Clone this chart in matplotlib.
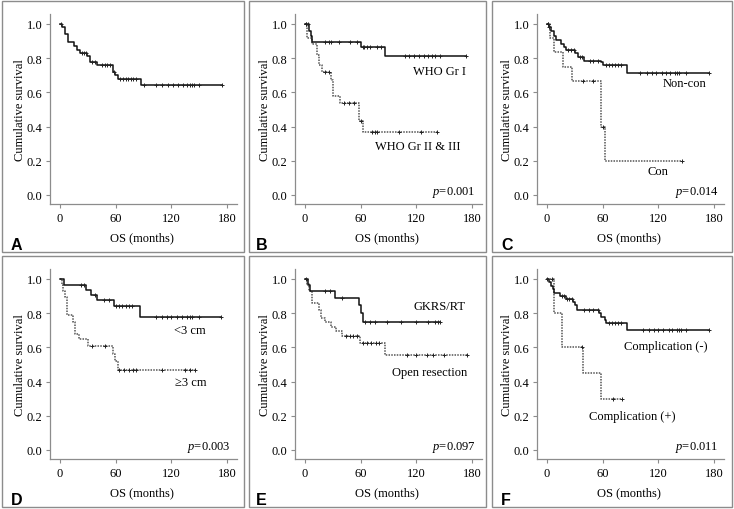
import numpy as np
import matplotlib.pyplot as plt
from matplotlib.patches import Rectangle

plt.rcParams['font.family'] = 'Liberation Serif'
plt.rcParams['mathtext.fontset'] = 'custom'
plt.rcParams['mathtext.rm'] = 'Liberation Serif'
plt.rcParams['mathtext.it'] = 'Liberation Serif:italic'

# --- KM data (months, cumulative survival) ---
# A: all patients
a_times = [0, 2, 5, 9, 15, 18, 22, 29, 32, 40, 57, 59, 62, 87]
a_surv = [1.0, 0.98, 0.94, 0.895, 0.87, 0.845, 0.83, 0.81, 0.78, 0.76, 0.72, 0.70, 0.68, 0.64]
a_cens = [1, 24, 26, 28, 35, 38, 45, 48, 51, 54, 58, 65, 68, 71, 73, 76, 79, 82,
          90, 103, 110, 116, 122, 127, 133, 137, 140, 142, 144, 150, 175]

# B: WHO grade
b1_times = [0, 4, 6, 8, 60, 86]
b1_surv = [1.0, 0.96, 0.93, 0.895, 0.865, 0.81]
b1_cens = [1, 3, 22, 26, 28, 37, 49, 56, 62, 64, 67, 70, 78, 82,
           108, 112, 118, 123, 128, 133, 137, 140, 145, 174]
b2_times = [0, 2, 7, 13, 15, 18, 28, 30, 38, 58, 62]
b2_surv = [1.0, 0.92, 0.88, 0.82, 0.76, 0.72, 0.67, 0.58, 0.54, 0.43, 0.37]
b2_cens = [1, 22, 26, 42, 47, 53, 60, 72, 75, 78, 101, 125, 142]

# C: Non-con / Con
c1_times = [0, 2, 4, 7, 10, 15, 18, 20, 30, 33, 40, 58, 60, 86]
c1_surv = [1.0, 0.98, 0.96, 0.93, 0.905, 0.88, 0.865, 0.85, 0.83, 0.805, 0.785, 0.775, 0.76, 0.715]
c1_cens = [1, 2, 23, 26, 29, 36, 38, 46, 50, 55, 64, 67, 70, 73, 76, 80,
           100, 108, 113, 118, 124, 128, 133, 138, 140, 142, 150, 175]
c2_times = [0, 3, 8, 17, 27, 58, 63]
c2_surv = [1.0, 0.917, 0.833, 0.75, 0.667, 0.40, 0.20]
c2_cens = [1, 39, 50, 60, 145]

# D: tumour size
d1_times = [0, 4, 28, 33, 40, 58, 86]
d1_surv = [1.0, 0.967, 0.935, 0.905, 0.875, 0.84, 0.775]
d1_cens = [23, 26, 38, 47, 53, 60, 64, 67, 71, 74, 78,
           103, 110, 115, 120, 126, 132, 137, 140, 142, 150, 174]
d2_times = [0, 2, 3, 5, 8, 14, 16, 20, 30, 57, 59, 62]
d2_surv = [1.0, 0.967, 0.93, 0.895, 0.79, 0.75, 0.68, 0.65, 0.61, 0.56, 0.52, 0.465]
d2_cens = [35, 48, 64, 69, 74, 79, 82, 110, 135, 140, 146]

# E: treatment
e1_times = [0, 3, 5, 32, 58, 60, 63]
e1_surv = [1.0, 0.967, 0.93, 0.89, 0.85, 0.80, 0.75]
e1_cens = [1, 22, 27, 40, 65, 70, 75, 88, 103, 120, 133, 140, 143, 146]
e2_times = [0, 2, 4, 8, 15, 17, 22, 28, 33, 40, 59, 86]
e2_surv = [1.0, 0.97, 0.93, 0.86, 0.82, 0.77, 0.75, 0.72, 0.695, 0.665, 0.625, 0.555]
e2_cens = [44, 48, 52, 56, 63, 67, 71, 76, 80, 110, 120, 132, 138, 150, 175]

# F: complication
f1_times = [0, 2, 4, 6, 8, 14, 20, 28, 30, 32, 56, 58, 62, 64, 86]
f1_surv = [1.0, 0.98, 0.96, 0.94, 0.92, 0.90, 0.88, 0.865, 0.845, 0.82, 0.80, 0.775, 0.76, 0.745, 0.70]
f1_cens = [0, 16, 18, 22, 24, 27, 40, 45, 50, 55, 67, 70, 73, 76, 80,
           103, 110, 115, 120, 125, 131, 135, 140, 142, 144, 150, 175]
f2_times = [0, 8, 16, 39, 58]
f2_surv = [1.0, 0.80, 0.60, 0.45, 0.30]
f2_cens = [5, 38, 71, 81]

W, H = 734, 510
fig = plt.figure(figsize=(W / 100, H / 100), dpi=100)

GRAY = '#8c8c8c'
FS = 9


def px_rect(x0, y0, x1, y1):
    return [x0 / W, 1 - y1 / H, (x1 - x0) / W, (y1 - y0) / H]


def km(ax, times, surv, cens, dotted=False):
    times = np.asarray(times, float)
    surv = np.asarray(surv, float)
    end = max(times[-1], max(cens))
    xs = np.append(times, end)
    ys = np.append(surv, surv[-1])
    if dotted:
        ax.step(xs, ys, where='post', color='#555555', lw=1.1, ls=(0, (1, 0.8)))
    else:
        ax.step(xs, ys, where='post', color='#111111', lw=1.1)
    idx = np.searchsorted(times, cens, side='right') - 1
    ax.plot(cens, surv[idx], ls='none', marker='+', ms=3.2, mew=0.7, color='#222222')


def setup(ax):
    ax.set_xlim(-10.8, 190.8)
    ax.set_ylim(-0.053, 1.058)
    ax.set_xticks([0, 60, 120, 180])
    ax.set_yticks(np.arange(0, 1.01, 0.2))
    ax.yaxis.set_major_formatter(plt.FormatStrFormatter('%.1f'))
    for s in ['top', 'right']:
        ax.spines[s].set_visible(False)
    for s in ['left', 'bottom']:
        ax.spines[s].set_color(GRAY)
        ax.spines[s].set_linewidth(0.9)
    ax.tick_params(colors=GRAY, labelcolor='black', length=3, width=0.8,
                   labelsize=FS, pad=2.5)
    ax.set_xlabel('OS (months)', fontsize=FS)
    ax.set_ylabel('Cumulative survival', fontsize=FS)
    ax.xaxis.set_label_coords(0.49, -0.174)
    ax.xaxis.label.set_va('center')
    ax.yaxis.set_label_coords(-0.16, 0.5)
    ax.yaxis.label.set_va('center')


# panel frames
frames = [(2, 2, 244, 253), (249, 2, 486, 253), (492, 2, 732, 253),
          (2, 257, 244, 508), (249, 257, 486, 508), (492, 257, 732, 508)]
for x0, y0, x1, y1 in frames:
    r = px_rect(x0, y0, x1, y1)
    fig.patches.append(Rectangle((r[0], r[1]), r[2], r[3], transform=fig.transFigure,
                                 fill=False, edgecolor=GRAY, lw=1.0))

axes_px = [(50, 15), (295, 15), (537, 15), (50, 270), (295, 270), (537, 270)]
axs = [fig.add_axes(px_rect(x, y, x + 187, y + 190)) for x, y in axes_px]
for ax in axs:
    setup(ax)

letters = ['A', 'B', 'C', 'D', 'E', 'F']
letter_px = [(11, 250), (256, 250), (501, 250), (11, 505), (256, 505), (501, 505)]
for l, (x, y) in zip(letters, letter_px):
    fig.text(x / W, 1 - y / H, l, family='Liberation Sans', weight='bold',
             fontsize=11.5, ha='left', va='baseline')

# A
km(axs[0], a_times, a_surv, a_cens)

# B
ax = axs[1]
km(ax, b2_times, b2_surv, b2_cens, dotted=True)
km(ax, b1_times, b1_surv, b1_cens)
ax.text(174, 0.723, 'WHO Gr I', ha='right', va='center', fontsize=FS)
ax.text(168, 0.288, 'WHO Gr II & III', ha='right', va='center', fontsize=FS)
ax.text(184, 0.02, r'$p$=0.001', ha='right', va='center', fontsize=FS)

# C
ax = axs[2]
km(ax, c2_times, c2_surv, c2_cens, dotted=True)
km(ax, c1_times, c1_surv, c1_cens)
ax.text(172, 0.655, 'Non-con', ha='right', va='center', fontsize=FS)
ax.text(131, 0.14, 'Con', ha='right', va='center', fontsize=FS)
ax.text(185, 0.02, r'$p$=0.014', ha='right', va='center', fontsize=FS)

# D
ax = axs[3]
km(ax, d2_times, d2_surv, d2_cens, dotted=True)
km(ax, d1_times, d1_surv, d1_cens)
ax.text(157, 0.703, '<3 cm', ha='right', va='center', fontsize=FS)
ax.text(158, 0.40, '\u22653 cm', ha='right', va='center', fontsize=FS,
        family=['Liberation Serif', 'DejaVu Serif'])
ax.text(184, 0.023, r'$p$=0.003', ha='right', va='center', fontsize=FS)

# E
ax = axs[4]
km(ax, e2_times, e2_surv, e2_cens, dotted=True)
km(ax, e1_times, e1_surv, e1_cens)
ax.text(173, 0.844, 'GKRS/RT', ha='right', va='center', fontsize=FS)
ax.text(175, 0.454, 'Open resection', ha='right', va='center', fontsize=FS)
ax.text(184, 0.023, r'$p$=0.097', ha='right', va='center', fontsize=FS)

# F
ax = axs[5]
km(ax, f2_times, f2_surv, f2_cens, dotted=True)
km(ax, f1_times, f1_surv, f1_cens)
ax.text(173, 0.608, 'Complication (-)', ha='right', va='center', fontsize=FS)
ax.text(138, 0.20, 'Complication (+)', ha='right', va='center', fontsize=FS)
ax.text(184.5, 0.023, r'$p$=0.011', ha='right', va='center', fontsize=FS)

fig.savefig('out.png', dpi=100)
